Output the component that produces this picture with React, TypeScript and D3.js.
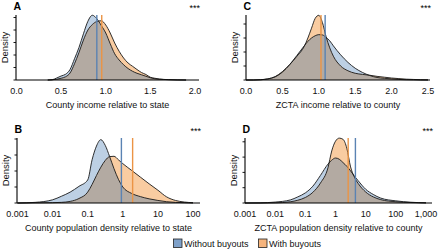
import React from "react";
import * as d3 from "d3";

// ---------- Panel A: county income relative to state ----------
const aX = [0.35,0.4,0.45,0.5,0.55,0.6,0.65,0.7,0.75,0.8,0.85,0.9,0.95,1.0,1.05,1.1,1.15,1.2,1.25,1.3,1.35,1.4,1.45,1.5,1.55,1.6,1.7,1.8,1.9];
const aWithout = [0,0.01,0.08,0.16,0.23,0.42,0.85,1.3,1.85,2.35,2.59,2.45,2.18,1.88,1.45,1.05,0.8,0.61,0.46,0.35,0.27,0.21,0.15,0.09,0.05,0.03,0.015,0.003,0];
const aWith = [0,0.01,0.03,0.07,0.13,0.28,0.65,1.1,1.6,2.0,2.22,2.34,2.37,2.2,1.88,1.48,1.15,0.88,0.68,0.55,0.42,0.3,0.22,0.11,0.07,0.04,0.015,0.005,0];
const aMedians = [0.9, 0.955]; // without, with
const aTicks = [0, 0.5, 1, 1.5, 2];
const aTickLabels = ["0.0", "0.5", "1.0", "1.5", "2.0"];

// ---------- Panel B: county population density relative to state (log10) ----------
const bLog = [-3,-2.5,-2,-1.75,-1.5,-1.25,-1,-0.875,-0.75,-0.625,-0.5,-0.375,-0.25,-0.125,0,0.25,0.5,0.75,1,1.25,1.5,1.75,2];
const bWithout = [0,0.02,0.1,0.21,0.34,0.52,0.72,1.35,1.78,1.98,1.8,1.45,1.07,0.74,0.5,0.3,0.2,0.13,0.08,0.04,0.02,0.01,0];
const bWith = [0,0.005,0.01,0.02,0.05,0.14,0.34,0.58,0.86,1.12,1.33,1.45,1.46,1.35,1.23,1.02,0.81,0.6,0.4,0.19,0.08,0.03,0.01];
const bMedians = [-0.04, 0.28];
const bTicks = [-3, -2, -1, 0, 1, 2];
const bTickLabels = ["0.001", "0.01", "0.1", "1", "10", "100"];

// ---------- Panel C: ZCTA income relative to county ----------
const cX = [0,0.1,0.2,0.3,0.4,0.5,0.6,0.7,0.8,0.85,0.9,0.95,1.0,1.05,1.1,1.15,1.2,1.3,1.4,1.5,1.6,1.7,1.8,1.9,2.0,2.1,2.2,2.3,2.4,2.5];
const cWithout = [0,0,0.01,0.04,0.11,0.28,0.55,0.88,1.22,1.38,1.5,1.58,1.62,1.61,1.52,1.4,1.22,0.9,0.63,0.42,0.27,0.16,0.09,0.06,0.04,0.02,0.01,0.005,0,0];
const cWith = [0,0,0.01,0.04,0.12,0.3,0.55,0.85,1.2,1.5,1.85,2.2,2.31,2.05,1.55,1.15,0.85,0.5,0.33,0.24,0.2,0.17,0.13,0.1,0.07,0.05,0.03,0.02,0.01,0.005];
const cMedians = [1.087, 1.03];
const cTicks = [0, 0.5, 1, 1.5, 2, 2.5];
const cTickLabels = ["0.0", "0.5", "1.0", "1.5", "2.0", "2.5"];

// ---------- Panel D: ZCTA population density relative to county (log10) ----------
const dLog = [-3,-2.5,-2,-1.5,-1.25,-1,-0.75,-0.5,-0.25,-0.125,0,0.125,0.25,0.375,0.5,0.625,0.75,1,1.25,1.5,2,2.5,3];
const dWithout = [0,0.005,0.03,0.1,0.2,0.33,0.55,0.9,1.27,1.4,1.47,1.43,1.32,1.2,1.05,0.88,0.73,0.45,0.28,0.16,0.07,0.025,0.005];
const dWith = [0,0,0.005,0.04,0.09,0.18,0.35,0.65,1.15,1.7,2.02,2.12,2.08,1.79,1.18,0.85,0.64,0.36,0.2,0.11,0.04,0.015,0.005];
const dMedians = [0.66, 0.42];
const dTicks = [-3, -2, -1, 0, 1, 2, 3];
const dTickLabels = ["0.001", "0.01", "0.1", "1", "10", "100", "1,000"];

const legendLabels = ["Without buyouts", "With buyouts"];

const FONT = "'Liberation Sans', Arial, Helvetica, sans-serif";
const BLUE_FILL = "#bdd0e4";
const ORANGE_FILL = "#f9cca1";
const OVERLAP_FILL = "#b3aaa2";
const BLUE_LINE = "#5a83b3";
const ORANGE_LINE = "#eb9445";
const OUTLINE = "#1a1a1a";

type PanelProps = {
  id: string;
  letter: string;
  xs: number[];
  without: number[];
  withB: number[];
  medians: number[];
  ticks: number[];
  tickLabels: string[];
  domain: [number, number];
  range: [number, number];
  axisX: number;
  axisEnd: number;
  base: number;
  top: number;
  ppu: number;
  yTicks: number[];
  title: string;
};

function Panel(p: PanelProps) {
  const x = d3.scaleLinear().domain(p.domain).range(p.range);
  const y = d3.scaleLinear().domain([0, 1]).range([p.base, p.base - p.ppu]);
  const area = d3
    .area<number>()
    .x((_, i) => x(p.xs[i]))
    .y0(p.base)
    .y1((d) => y(d))
    .curve(d3.curveMonotoneX);
  const line = d3
    .line<number>()
    .x((_, i) => x(p.xs[i]))
    .y((d) => y(d))
    .curve(d3.curveMonotoneX);
  const blueArea = area(p.without) || "";
  const orangeArea = area(p.withB) || "";
  const mid = (p.axisX + p.axisEnd) / 2;
  const labelY = p.base + 13.5;
  const titleY = p.base + 27.5;
  return (
    <g>
      <defs>
        <clipPath id={`clip-${p.id}`}>
          <path d={blueArea} />
        </clipPath>
      </defs>
      <path d={blueArea} fill={BLUE_FILL} />
      <path d={orangeArea} fill={ORANGE_FILL} />
      <path d={orangeArea} fill={OVERLAP_FILL} clipPath={`url(#clip-${p.id})`} />
      <path d={line(p.without) || ""} fill="none" stroke={OUTLINE} strokeWidth={0.9} />
      <path d={line(p.withB) || ""} fill="none" stroke={OUTLINE} strokeWidth={0.9} />
      <line x1={x(p.medians[0])} x2={x(p.medians[0])} y1={p.base} y2={p.top} stroke={BLUE_LINE} strokeWidth={1.4} />
      <line x1={x(p.medians[1])} x2={x(p.medians[1])} y1={p.base} y2={p.top} stroke={ORANGE_LINE} strokeWidth={1.4} />
      {/* axes */}
      <line x1={p.axisX} x2={p.axisX} y1={p.top} y2={p.base} stroke="#000" strokeWidth={1.1} />
      <line x1={p.axisX} x2={p.axisEnd} y1={p.base} y2={p.base} stroke="#000" strokeWidth={1.1} />
      {p.yTicks.map((t) => (
        <line key={t} x1={p.axisX - 2.5} x2={p.axisX} y1={y(t)} y2={y(t)} stroke="#000" strokeWidth={0.9} />
      ))}
      {p.ticks.map((t, i) => (
        <text key={t} x={x(t)} y={labelY} textAnchor="middle" fontSize={9} fontFamily={FONT} fill="#111">
          {p.tickLabels[i]}
        </text>
      ))}
      <text x={mid} y={titleY} textAnchor="middle" fontSize={9} fontFamily={FONT} fill="#111">
        {p.title}
      </text>
      <text
        transform={`translate(${p.axisX - 8},${(p.top + p.base) / 2}) rotate(-90)`}
        textAnchor="middle"
        fontSize={9.5}
        fontFamily={FONT}
        fill="#111"
      >
        Density
      </text>
      <text x={p.axisX - 2.5} y={p.top - 5} fontSize={10.5} fontWeight="bold" fontFamily={FONT} fill="#000">
        {p.letter}
      </text>
      <text x={p.axisEnd + 1} y={p.top - 4} textAnchor="end" fontSize={9} fontFamily={FONT} fill="#000">
        ***
      </text>
    </g>
  );
}

export default function App() {
  return (
    <svg width={440} height={252} style={{ position: "absolute", left: 0, top: 0, background: "#fff" }}>
      <rect x={0} y={0} width={440} height={252} fill="#fff" />
      <Panel
        id="A" letter="A" xs={aX} without={aWithout} withB={aWith} medians={aMedians}
        ticks={aTicks} tickLabels={aTickLabels} domain={[0, 2]} range={[16.5, 195]}
        axisX={16} axisEnd={199} base={80} top={15} ppu={25} yTicks={[0, 0.5, 1, 1.5, 2, 2.5]}
        title="County income relative to state"
      />
      <Panel
        id="C" letter="C" xs={cX} without={cWithout} withB={cWith} medians={cMedians}
        ticks={cTicks} tickLabels={cTickLabels} domain={[0, 2.5]} range={[246, 428]}
        axisX={246} axisEnd={430} base={80} top={15} ppu={28} yTicks={[0, 0.5, 1, 1.5, 2]}
        title="ZCTA income relative to county"
      />
      <Panel
        id="B" letter="B" xs={bLog} without={bWithout} withB={bWith} medians={bMedians}
        ticks={bTicks} tickLabels={bTickLabels} domain={[-3, 2]} range={[17.5, 193]}
        axisX={17} axisEnd={200} base={203} top={138} ppu={32} yTicks={[0, 0.5, 1, 1.5, 2]}
        title="County population density relative to state"
      />
      <Panel
        id="D" letter="D" xs={dLog} without={dWithout} withB={dWith} medians={dMedians}
        ticks={dTicks} tickLabels={dTickLabels} domain={[-3, 3]} range={[245, 426]}
        axisX={245} axisEnd={432} base={203} top={138} ppu={30.6} yTicks={[0, 0.5, 1, 1.5, 2]}
        title="ZCTA population density relative to county"
      />
      {/* legend */}
      <rect x={173.5} y={239} width={8.5} height={8.5} fill="#7fa1c9" stroke="#222" strokeWidth={0.8} />
      <text x={184} y={247} fontSize={9} fontFamily={FONT} fill="#111">{legendLabels[0]}</text>
      <rect x={258.5} y={239} width={8.5} height={8.5} fill="#f6b47c" stroke="#222" strokeWidth={0.8} />
      <text x={269} y={247} fontSize={9} fontFamily={FONT} fill="#111">{legendLabels[1]}</text>
    </svg>
  );
}
